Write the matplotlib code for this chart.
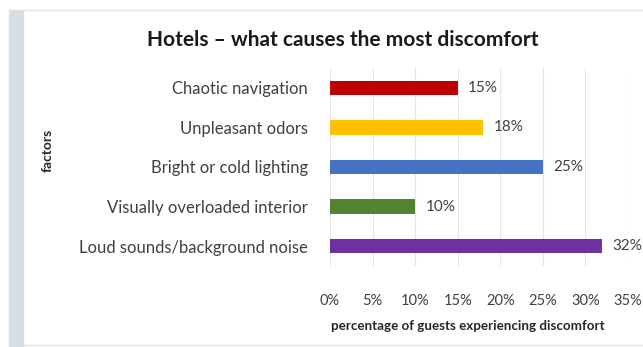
import matplotlib
matplotlib.use("Agg")
import matplotlib.pyplot as plt
from matplotlib.patches import Rectangle
from matplotlib.ticker import FuncFormatter

# data
factors = ["Chaotic navigation", "Unpleasant odors", "Bright or cold lighting",
           "Visually overloaded interior", "Loud sounds/background noise"]
values = [15, 18, 25, 10, 32]
colors = ["#c00000", "#ffc000", "#4472c4", "#548235", "#7030a0"]
xticks = [0, 5, 10, 15, 20, 25, 30, 35]

plt.rcParams["font.family"] = ["Lato", "DejaVu Sans"]
text_color = "#404040"

W, H = 643, 347
fig = plt.figure(figsize=(W / 100, H / 100), dpi=100)

# page background: grey strip on the left and frame lines
fig.patches.append(Rectangle((9 / W, 0), 14 / W, 1 - 10 / H, transform=fig.transFigure,
                             color="#d6dde5", zorder=0))
fig.add_artist(plt.Line2D([23 / W, 1], [1 - 10 / H, 1 - 10 / H], color="#e4e4e4", lw=1))
fig.add_artist(plt.Line2D([23 / W, 1], [2 / H, 2 / H], color="#e4e4e4", lw=1))

ax = fig.add_axes([330 / W, 1 - 266 / H, 298 / W, 198 / H])
y = list(range(len(factors)))
ax.barh(y, values, height=0.36, color=colors, zorder=3)
ax.set_ylim(len(factors) - 0.5, -0.5)
ax.set_xlim(0, 35)
ax.set_xticks(xticks)
ax.xaxis.set_major_formatter(FuncFormatter(lambda v, p: f"{v:.0f}%"))
ax.set_yticks(y)
ax.set_yticklabels(factors)
ax.tick_params(axis="y", length=0, pad=16, labelsize=12, labelcolor=text_color)
ax.tick_params(axis="x", length=0, pad=20, labelsize=10.5, labelcolor=text_color)
ax.grid(axis="x", color="#e6e6e6", lw=0.8, zorder=0)
for s in ax.spines.values():
    s.set_visible(False)

for yi, v in zip(y, values):
    ax.text(v + 1.2, yi, f"{v}%", va="center", ha="left", fontsize=11,
            color=text_color, clip_on=False)

fig.text(468 / W, 1 - 326 / H, "percentage of guests experiencing discomfort",
         ha="center", va="center", fontsize=9.6, fontweight="bold", color="#262626")
fig.text(48 / W, 1 - 150 / H, "factors", rotation=90, ha="center", va="center",
         fontsize=10, fontweight="bold", color="#262626")
fig.text(343 / W, 1 - 40 / H, "Hotels \u2013 what causes the most discomfort",
         ha="center", va="center", fontsize=15, fontweight="bold", color="#1a1a1a")

fig.savefig("out.png", dpi=100)
